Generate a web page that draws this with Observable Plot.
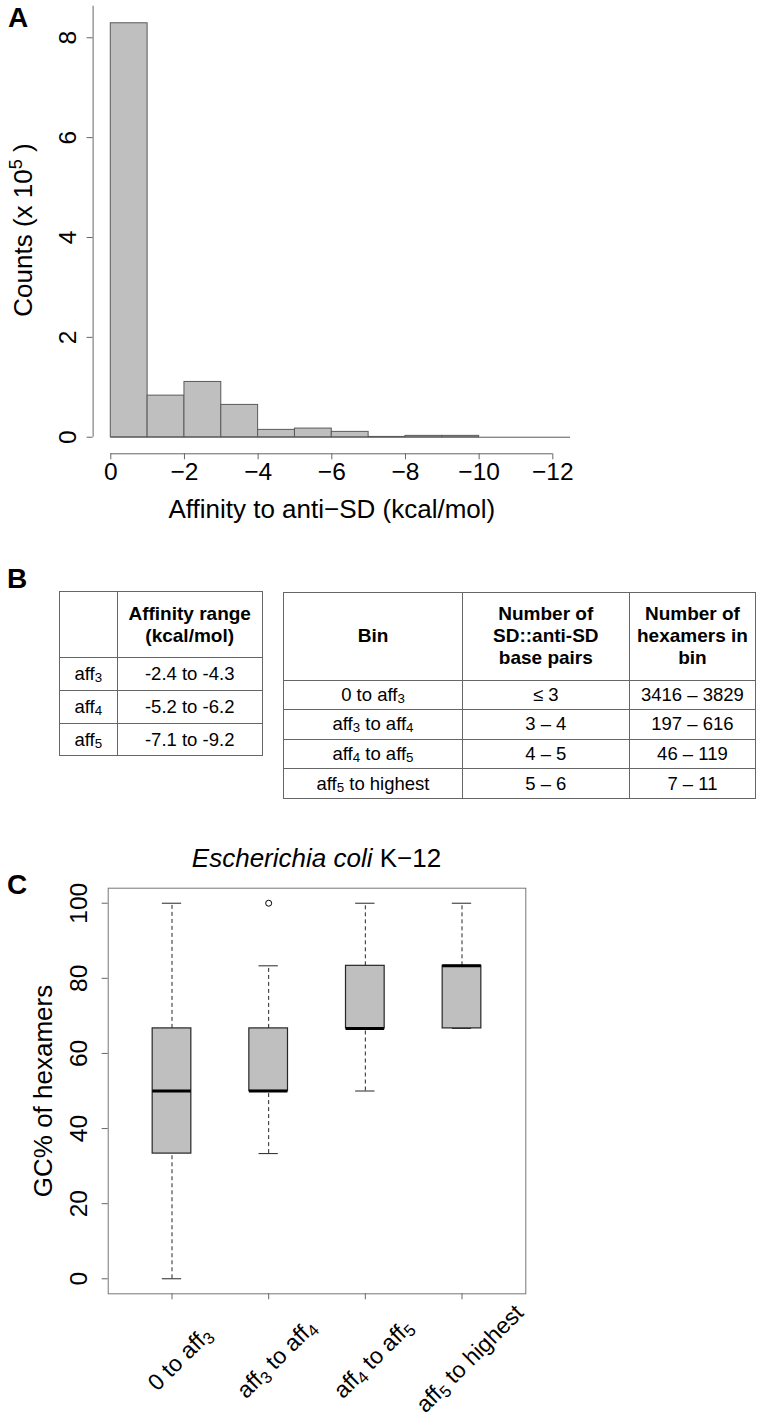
<!DOCTYPE html>
<html><head><meta charset="utf-8">
<script src="https://cdn.jsdelivr.net/npm/d3@7"></script>
<script src="https://cdn.jsdelivr.net/npm/@observablehq/plot@0.6"></script>
<style>
html,body{margin:0;padding:0;background:#fff;}
body{font-family:"Liberation Sans",Arial,Helvetica,sans-serif;color:#000;}
#page{position:relative;width:760px;height:1420px;overflow:hidden;}
.plabel{position:absolute;font-weight:bold;font-size:28px;line-height:28px;}
.abs{position:absolute;}
table{position:absolute;border-collapse:collapse;table-layout:fixed;font-size:18.5px;}
td{border:1px solid #666;text-align:center;vertical-align:middle;padding:0;line-height:22px;}
td.h{font-weight:bold;font-size:19px;}
sub{font-size:0.72em;vertical-align:-0.12em;line-height:0;}
#titleC{position:absolute;left:0;top:845px;width:633px;text-align:center;font-size:26px;line-height:26px;}
</style></head><body>
<div id="page">
  <div class="plabel" style="left:8px;top:4px;">A</div>
  <div class="plabel" style="left:7px;top:565px;">B</div>
  <div class="plabel" style="left:7px;top:871px;">C</div>
  <div id="panelA" class="abs" style="left:0;top:0;"></div>
  <table id="tblLeft" style="left:59px;top:591px;width:203px;"></table>
  <table id="tblRight" style="left:283px;top:591.5px;width:472px;"></table>
  <div id="titleC"><i>Escherichia coli</i> K&#8722;12</div>
  <div id="panelC" class="abs" style="left:0;top:870px;"></div>
</div>
<script>
// ---------- Panel A data ----------
const binLow  = [0, -1, -2, -3, -4, -5, -6, -7, -8, -9, -10, -11];
const binHigh = [-1, -2, -3, -4, -5, -6, -7, -8, -9, -10, -11, -12];
const counts  = [8.29, 0.833, 1.107, 0.647, 0.147, 0.173, 0.107, 0.006, 0.027, 0.027, 0, 0]; // x 10^5
const xTicksA = [0, -2, -4, -6, -8, -10, -12];
const yTicksA = [0, 2, 4, 6, 8];
const xTitleA = "Affinity to anti\u2212SD (kcal/mol)";
const yTitleA = "Counts (x 10^5 )";

// ---------- Panel B data ----------
const affLevels = ["aff3", "aff4", "aff5"];
const affRanges = ["-2.4 to -4.3", "-5.2 to -6.2", "-7.1 to -9.2"];
const leftHeader = ["", "Affinity range<br>(kcal/mol)"];
const rightHeader = ["Bin", "Number of<br>SD::anti-SD<br>base pairs", "Number of<br>hexamers in<br>bin"];
const binNames = ["0 to aff3", "aff3 to aff4", "aff4 to aff5", "aff5 to highest"];
const basePairs = ["\u2264 3", "3 \u2013 4", "4 \u2013 5", "5 \u2013 6"];
const hexamerCounts = ["3416 \u2013 3829", "197 \u2013 616", "46 \u2013 119", "7 \u2013 11"];

// ---------- Panel C data ----------
const categories = ["0 to aff3", "aff3 to aff4", "aff4 to aff5", "aff5 to highest"];
const whiskerLow  = [0, 33.33, 50, 66.67];
const quart1      = [33.33, 50, 66.67, 66.67];
const medians     = [50, 50, 66.67, 83.33];
const quart3      = [66.67, 66.67, 83.33, 83.33];
const whiskerHigh = [100, 83.33, 100, 100];
const outlierCat  = ["aff3 to aff4"];
const outlierVal  = [100];
const yTicksC = [0, 20, 40, 60, 80, 100];
const yTitleC = "GC% of hexamers";

const FONT = '"Liberation Sans", Arial, Helvetica, sans-serif';

function richify(svg) {
  svg.querySelectorAll("text, tspan").forEach(el => {
    if (el.children.length) return;
    const s = el.textContent;
    if (/aff\d/.test(s) || s.includes("^")) {
      el.innerHTML = s
        .replace(/aff(\d)/g, 'aff<tspan style="font-size:0.72em;baseline-shift:-4px">$1</tspan>')
        .replace(/\^(\d)/g, '<tspan style="font-size:0.7em;baseline-shift:10px">$1</tspan>');
    }
  });
}

// ---------- Panel A ----------
const xDomainA = [0.48, -12.48];
const yDomainA = [-0.332, 8.632];
const bins = binLow.map((lo, i) => ({x1: lo, x2: binHigh[i], y: counts[i]}));
const fmtMinus = d => d === 0 ? "0" : (d < 0 ? "\u2212" : "") + Math.abs(d);

const plotA = Plot.plot({
  width: 600, height: 540,
  marginLeft: 92.6, marginRight: 30, marginTop: 5.7, marginBottom: 86.7,
  x: {domain: xDomainA, label: null},
  y: {domain: yDomainA, label: null},
  style: {fontFamily: FONT, color: "#000", background: "transparent"},
  marks: [
    Plot.ruleY([0], {x1: binLow[0], x2: xDomainA[1], stroke: "#5a5a5a"}),
    Plot.rect(bins, {x1: "x1", x2: "x2", y1: 0, y2: "y", fill: "#bfbfbf", stroke: "#5a5a5a", strokeWidth: 1}),
    Plot.ruleY([yDomainA[0]], {x1: xTicksA[0], x2: xTicksA[xTicksA.length - 1], stroke: "#666"}),
    Plot.ruleX([xDomainA[0]], {y1: yTicksA[0], y2: yDomainA[1], stroke: "#666"}),
    Plot.axisX({ticks: xTicksA, tickSize: 6, tickPadding: 3, fontSize: 24.5, tickFormat: fmtMinus, stroke: "#666", fill: "#000", label: null}),
    Plot.axisY({ticks: yTicksA, tickSize: 6, tickFormat: () => "", stroke: "#666", label: null}),
    Plot.text(yTicksA, {y: d => d, text: d => String(d), frameAnchor: "left", dx: -24.6, rotate: -90, fontSize: 24.5, textAnchor: "middle", lineAnchor: "middle", fill: "#000"}),
    Plot.text([xTitleA], {text: d => d, frameAnchor: "bottom", dy: 55.4, fontSize: 26, textAnchor: "middle", lineAnchor: "middle", fill: "#000"}),
    Plot.text([yTitleA], {text: d => d, frameAnchor: "left", dx: -69.6, rotate: -90, fontSize: 26, textAnchor: "middle", lineAnchor: "middle", fill: "#000"})
  ]
});
richify(plotA);
document.getElementById("panelA").appendChild(plotA);

// ---------- Panel B ----------
const sub = s => s.replace(/aff(\d)/g, "aff<sub>$1</sub>");
function buildTable(el, colWidths, rowHeights, header, rows) {
  let html = "<colgroup>" + colWidths.map(w => `<col style="width:${w}px">`).join("") + "</colgroup>";
  html += `<tr style="height:${rowHeights[0]}px">` + header.map(h => `<td class="h">${h}</td>`).join("") + "</tr>";
  rows.forEach((r, i) => {
    html += `<tr style="height:${rowHeights[i + 1]}px">` + r.map(c => `<td>${sub(c)}</td>`).join("") + "</tr>";
  });
  el.innerHTML = html;
}
buildTable(document.getElementById("tblLeft"), [57.7, 145], [66.3, 32.7, 32.7, 32.7],
  leftHeader, affLevels.map((a, i) => [a, affRanges[i]]));
buildTable(document.getElementById("tblRight"), [179, 166.6, 126.7], [88, 29.6, 29.6, 29.6, 29.6],
  rightHeader, binNames.map((b, i) => [b, basePairs[i], hexamerCounts[i]]));

// ---------- Panel C ----------
const boxes = categories.map((c, i) => ({i: i + 1, name: c, lo: whiskerLow[i], q1: quart1[i], med: medians[i], q3: quart3[i], hi: whiskerHigh[i]}));
const outliers = outlierCat.map((c, k) => ({i: categories.indexOf(c) + 1, v: outlierVal[k]}));
const halfBox = 0.2, halfStaple = 0.1;
const boxStroke = "#262626";

const plotC = Plot.plot({
  width: 600, height: 550,
  marginLeft: 107.7, marginRight: 74.7, marginTop: 17.7, marginBottom: 126.7,
  x: {domain: [0.34, 4.66], label: null},
  y: {domain: [-4, 104], label: null},
  style: {fontFamily: FONT, color: "#000", background: "transparent"},
  marks: [
    Plot.ruleX(boxes, {x: "i", y1: "lo", y2: "q1", stroke: boxStroke, strokeDasharray: "4,3"}),
    Plot.ruleX(boxes, {x: "i", y1: "q3", y2: "hi", stroke: boxStroke, strokeDasharray: "4,3"}),
    Plot.ruleY(boxes, {y: "lo", x1: d => d.i - halfStaple, x2: d => d.i + halfStaple, stroke: boxStroke}),
    Plot.ruleY(boxes, {y: "hi", x1: d => d.i - halfStaple, x2: d => d.i + halfStaple, stroke: boxStroke}),
    Plot.rect(boxes, {x1: d => d.i - halfBox, x2: d => d.i + halfBox, y1: "q1", y2: "q3", fill: "#bfbfbf", stroke: boxStroke, strokeWidth: 1.2}),
    Plot.ruleY(boxes, {y: "med", x1: d => d.i - halfBox, x2: d => d.i + halfBox, stroke: "#000", strokeWidth: 3}),
    Plot.dot(outliers, {x: "i", y: "v", r: 3, stroke: "#000", fill: "none", strokeWidth: 1}),
    Plot.frame({stroke: "#777"}),
    Plot.axisY({ticks: yTicksC, tickSize: 6, tickFormat: () => "", stroke: "#666", label: null}),
    Plot.text(yTicksC, {y: d => d, text: d => String(d), frameAnchor: "left", dx: -29.4, rotate: -90, fontSize: 24.5, textAnchor: "middle", lineAnchor: "middle", fill: "#000"}),
    Plot.axisX({ticks: boxes.map(b => b.i), tickSize: 6, tickFormat: () => "", stroke: "#666", label: null}),
    Plot.text(boxes, {x: "i", text: "name", frameAnchor: "bottom", dx: 8, dy: 65, rotate: -45, fontSize: 23, textAnchor: "middle", lineAnchor: "middle", fill: "#000"}),
    Plot.text([yTitleC], {text: d => d, frameAnchor: "left", dx: -64.7, rotate: -90, fontSize: 26, textAnchor: "middle", lineAnchor: "middle", fill: "#000"})
  ]
});
richify(plotC);
document.getElementById("panelC").appendChild(plotC);
</script>
</body></html>
